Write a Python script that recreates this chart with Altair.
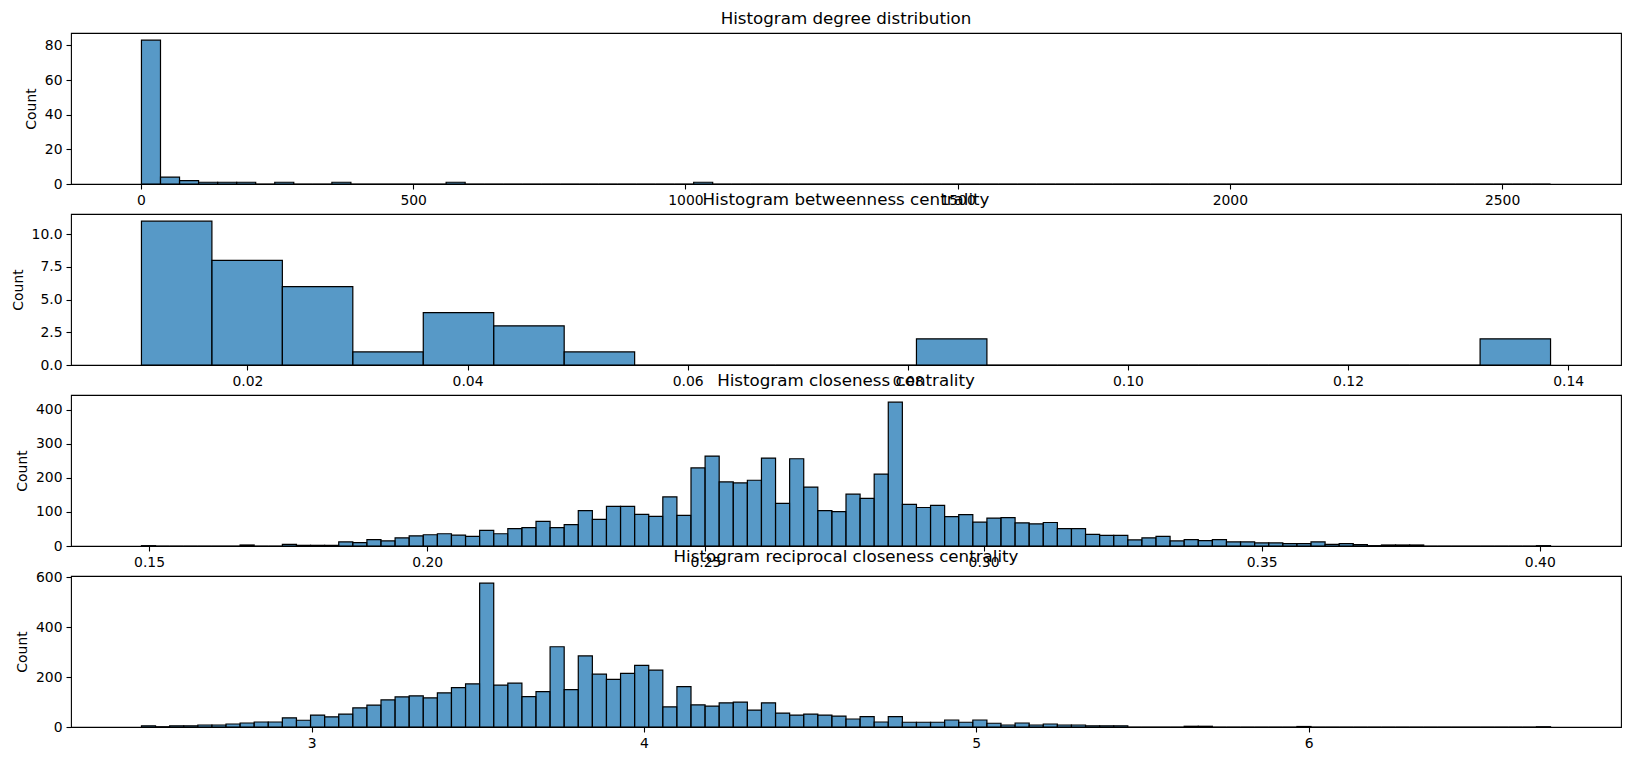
import altair as alt
import numpy as np
import pandas as pd

# degree distribution: 74 bins between the min and max degree
degree_lo, degree_hi = 1.0, 2589.0
degree_counts = [83, 4, 2, 1, 1, 1, 0, 1, 0, 0, 1, 0, 0, 0, 0, 0, 1] + [0] * 12 + [1] + [0] * 44

# betweenness centrality: 20 bins
betw_lo, betw_hi = 0.01037, 0.1384
betw_counts = [11, 8, 6, 1, 4, 3, 1, 0, 0, 0, 0, 2, 0, 0, 0, 0, 0, 0, 0, 2]

# closeness centrality: 100 bins
clos_lo, clos_hi = 0.14863, 0.40193
clos_counts = [
    1, 0, 0, 0, 0, 0, 0, 3, 0, 0,
    5, 2, 2, 2, 12, 10, 19, 15, 24, 30,
    33, 36, 32, 28, 46, 36, 51, 54, 72, 54,
    63, 104, 78, 116, 116, 93, 87, 144, 90, 229,
    264, 188, 185, 193, 258, 125, 256, 173, 104, 101,
    152, 140, 211, 422, 122, 113, 119, 86, 92, 70,
    82, 83, 68, 65, 69, 51, 51, 34, 31, 31,
    18, 24, 28, 15, 19, 16, 19, 12, 12, 9,
    9, 7, 7, 12, 5, 7, 4, 1, 3, 3,
    3, 0, 0, 0, 0, 0, 0, 0, 0, 1,
]

# reciprocal closeness centrality: 100 bins
recip_lo, recip_hi = 2.488, 6.728
recip_counts = [
    5, 1, 5, 5, 8, 8, 12, 16, 20, 20,
    37, 27, 48, 41, 52, 77, 88, 109, 121, 125,
    117, 137, 158, 173, 577, 168, 176, 122, 142, 322,
    150, 285, 212, 191, 215, 247, 228, 81, 162, 89,
    84, 97, 100, 68, 97, 56, 48, 52, 48, 44,
    32, 42, 20, 42, 19, 19, 19, 28, 19, 28,
    15, 8, 16, 8, 12, 8, 8, 5, 5, 5,
    0, 0, 0, 0, 3, 3, 0, 0, 0, 0,
    0, 0, 2, 0, 0, 0, 0, 0, 0, 0,
    0, 0, 0, 0, 0, 0, 0, 0, 0, 1,
]

FONT = "DejaVu Sans"


def hist_panel(counts, lo, hi, title, x_ticks, x_fmt, y_ticks, y_fmt):
    edges = np.linspace(lo, hi, len(counts) + 1)
    df = pd.DataFrame({"start": edges[:-1], "end": edges[1:], "count": counts})
    pad = 0.05 * (hi - lo)
    return (
        alt.Chart(df, title=title)
        .mark_rect(fill="#1f77b4", fillOpacity=0.75, stroke="black", strokeWidth=1.2)
        .encode(
            x=alt.X(
                "start:Q",
                scale=alt.Scale(domain=[lo - pad, hi + pad], nice=False, zero=False),
                axis=alt.Axis(values=x_ticks, format=x_fmt, title=None),
            ),
            x2="end:Q",
            y=alt.Y(
                "count:Q",
                scale=alt.Scale(domain=[0, max(counts) * 1.05], nice=False),
                axis=alt.Axis(values=y_ticks, format=y_fmt, title="Count"),
            ),
            y2=alt.datum(0),
        )
        .properties(width=1550, height=151)
    )


p1 = hist_panel(degree_counts, degree_lo, degree_hi, "Histogram degree distribution",
                [0, 500, 1000, 1500, 2000, 2500], "d", [0, 20, 40, 60, 80], "d")
p2 = hist_panel(betw_counts, betw_lo, betw_hi, "Histogram betweenness centrality",
                [0.02, 0.04, 0.06, 0.08, 0.10, 0.12, 0.14], ".2f",
                [0, 2.5, 5, 7.5, 10], ".1f")
p3 = hist_panel(clos_counts, clos_lo, clos_hi, "Histogram closeness centrality",
                [0.15, 0.20, 0.25, 0.30, 0.35, 0.40], ".2f", [0, 100, 200, 300, 400], "d")
p4 = hist_panel(recip_counts, recip_lo, recip_hi, "Histogram reciprocal closeness centrality",
                [3, 4, 5, 6], "d", [0, 200, 400, 600], "d")

chart = (
    alt.vconcat(p1, p2, p3, p4, spacing=30, bounds="flush")
    .properties(padding={"left": 2, "top": 2, "right": 0, "bottom": 0})
    .configure_view(stroke="black", strokeWidth=1.1)
    .configure_axis(
        domain=False,
        grid=False,
        tickColor="black",
        tickSize=5,
        tickWidth=1.1,
        labelFont=FONT,
        labelFontSize=13.9,
        labelColor="black",
        labelPadding=4,
        titleFont=FONT,
        titleFontSize=13.9,
        titleFontWeight="normal",
        titleColor="black",
        titlePadding=6,
    )
    .configure_title(font=FONT, fontSize=16.7, fontWeight="normal", color="black",
                     anchor="middle", offset=5)
)

chart.save("out.html", embed_options={"renderer": "svg", "actions": False})
